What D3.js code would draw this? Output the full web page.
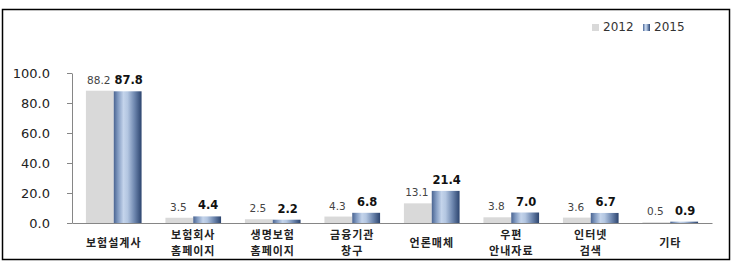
<!DOCTYPE html>
<html>
<head>
<meta charset="utf-8">
<script src="https://cdn.jsdelivr.net/npm/d3@7"></script>
<style>
  body { margin: 0; background: #fff; }
  svg { display: block; }
</style>
</head>
<body>
<svg id="chart" width="737" height="274"></svg>
<script>
var categories = [["보험설계사"], ["보험회사", "홈페이지"], ["생명보험", "홈페이지"], ["금융기관", "창구"],
	["언론매체"], ["우편", "안내자료"], ["인터넷", "검색"], ["기타"]];
var series = ["2012", "2015"];
var values2012 = [88.2, 3.5, 2.5, 4.3, 13.1, 3.8, 3.6, 0.5];
var values2015 = [87.8, 4.4, 2.2, 6.8, 21.4, 7.0, 6.7, 0.9];
var yTicks = [0, 20, 40, 60, 80, 100];

var svg = d3.select("svg#chart"),
	width = 737,
	height = 274;

svg.append("rect")
	.attr("width", width).attr("height", height).attr("fill", "#fff");

// outer frame
svg.append("rect")
	.attr("x", 2.5).attr("y", 9.5)
	.attr("width", 727).attr("height", 250)
	.attr("fill", "none").attr("stroke", "#000").attr("stroke-width", 1.5);

// gradient for 2015 bars
var defs = svg.append("defs");
var grad = defs.append("linearGradient")
	.attr("id", "blueGrad")
	.attr("x1", "0%").attr("x2", "100%").attr("y1", "0%").attr("y2", "0%");
[["0%", "#4a6491"], ["15%", "#8099c0"], ["35%", "#c4d4eb"], ["50%", "#b3c6e1"], ["75%", "#6d86ae"], ["100%", "#2c446e"]]
	.forEach(function(s) {
		grad.append("stop").attr("offset", s[0]).attr("stop-color", s[1]);
	});

var x = d3.scaleBand()
	.domain(d3.range(categories.length))
	.range([72, 712])
	.paddingInner(0.3)
	.paddingOuter(0.175);

var x1 = d3.scaleBand()
	.domain(series)
	.range([0, x.bandwidth()]);

var y = d3.scaleLinear()
	.domain([0, 100])
	.range([223, 73]);

var fmt = d3.format(".1f");

// y axis
var yAxis = svg.append("g")
	.attr("transform", "translate(72,0)")
	.call(d3.axisLeft(y).tickValues(yTicks).tickFormat(fmt).tickSize(5).tickSizeOuter(0).tickPadding(17));
yAxis.select(".domain").attr("stroke", "#868686");
yAxis.selectAll(".tick line").attr("stroke", "#868686");
yAxis.selectAll(".tick text")
	.attr("fill", "#222")
	.style("font-family", "'DejaVu Sans', sans-serif")
	.style("font-size", "13px");

// bars
var data = categories.map(function(c, i) {
	return { i: i, vals: [{ key: "2012", v: values2012[i] }, { key: "2015", v: values2015[i] }] };
});

var g = svg.selectAll(".grp")
	.data(data)
	.enter().append("g")
	.attr("class", "grp")
	.attr("transform", function(d) { return "translate(" + x(d.i) + ",0)"; });

g.selectAll("rect")
	.data(function(d) { return d.vals; })
	.enter().append("rect")
	.attr("x", function(d) { return x1(d.key); })
	.attr("y", function(d) { return y(d.v); })
	.attr("width", x1.bandwidth())
	.attr("height", function(d) { return y(0) - y(d.v); })
	.attr("fill", function(d) { return d.key === "2012" ? "#d9d9d9" : "url(#blueGrad)"; });

g.selectAll("text.val")
	.data(function(d) { return d.vals; })
	.enter().append("text")
	.attr("class", "val")
	.attr("x", function(d) { return x1(d.key) + x1.bandwidth() / 2 + (d.key === "2012" ? -1 : 1); })
	.attr("y", function(d) { return y(d.v) - 7; })
	.attr("text-anchor", "middle")
	.style("font-family", "'DejaVu Sans', sans-serif")
	.style("font-size", function(d) { return d.key === "2012" ? "10.5px" : "11.5px"; })
	.style("font-weight", function(d) { return d.key === "2012" ? "normal" : "bold"; })
	.attr("fill", function(d) { return d.key === "2012" ? "#444" : "#111"; })
	.text(function(d) { return fmt(d.v); });

// x axis
var xAxis = svg.append("g")
	.attr("transform", "translate(0,223)")
	.call(d3.axisBottom(x).tickSize(0).tickSizeOuter(0).tickFormat(""));
xAxis.select(".domain").attr("stroke", "#868686");

xAxis.selectAll(".tick text").remove();
xAxis.selectAll(".tick")
	.append("text")
	.attr("fill", "#222")
	.attr("text-anchor", "middle")
	.style("font-family", "'Noto Sans CJK KR', sans-serif")
	.style("font-size", "11px")
	.style("font-weight", "bold")
	.style("letter-spacing", "1px")
	.each(function(i) {
		var lines = categories[i];
		var t = d3.select(this);
		var y0 = lines.length === 1 ? 23.5 : 15.5;
		lines.forEach(function(l, k) {
			t.append("tspan")
				.attr("x", 0)
				.attr("y", y0 + k * 16)
				.text(l);
		});
	});

// legend
var legend = svg.append("g").attr("class", "legend");
var legendX = [592, 643];
series.forEach(function(s, k) {
	legend.append("rect")
		.attr("x", legendX[k]).attr("y", 24)
		.attr("width", 7).attr("height", 7)
		.attr("fill", k === 0 ? "#d9d9d9" : "url(#blueGrad)");
	legend.append("text")
		.attr("x", legendX[k] + 11).attr("y", 31)
		.attr("fill", "#333")
		.style("font-family", "'DejaVu Sans', sans-serif")
		.style("font-size", "12px")
		.text(s);
});
</script>
</body>
</html>
